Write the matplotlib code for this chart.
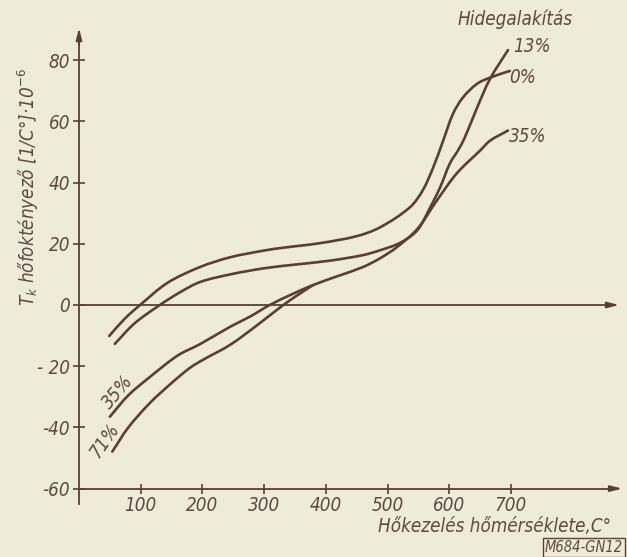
import matplotlib
matplotlib.use("Agg")
import numpy as np
import matplotlib.pyplot as plt
from matplotlib.path import Path
from matplotlib.patches import PathPatch

# ---------------- data ----------------
temps_0 = [49, 75, 99, 143, 196, 245, 300, 326, 390, 450, 488, 536, 557, 574, 590, 606, 622, 645, 666, 698]
tk_0 = [-10.1, -4.3, 0, 7.2, 12.4, 15.6, 17.8, 18.6, 20.2, 22.5, 25.4, 31.9, 37.5, 45, 53.7, 62.5, 67.8, 72.3, 74.3, 76.5]

temps_13 = [58, 90, 131, 164, 196, 245, 300, 350, 407, 460, 488, 520, 548, 569, 585, 601, 614, 625, 645, 666, 695]
tk_13 = [-12.7, -6.0, 0, 4.2, 7.5, 10.0, 12.0, 13.2, 14.5, 16.3, 17.9, 20.3, 24.4, 31.9, 38.4, 46.3, 50.5, 54.7, 64.5, 73.9, 83.3]

temps_35 = [50, 80, 115, 160, 196, 245, 277, 309, 345, 379, 420, 460, 488, 515, 548, 580, 612, 650, 666, 695]
tk_35 = [-36.5, -29.5, -23.5, -16.5, -12.8, -7.1, -3.8, 0, 3.5, 6.5, 9.5, 12.4, 15.3, 18.9, 24.8, 34.2, 43, 50.5, 53.7, 57]

temps_71 = [54, 80, 115, 150, 180, 201, 245, 290, 331, 360, 379]
tk_71 = [-47.9, -40, -32, -25.5, -20.5, -17.9, -13, -6.4, 0, 4, 6.5]

x_ticks = [100, 200, 300, 400, 500, 600, 700]
y_ticks = [80, 60, 40, 20, 0, -20, -40, -60]
y_tick_labels = ["80", "60", "40", "20", "0", "- 20", "-40", "-60"]

# ---------------- style ----------------
BG = "#efebdb"
INK = "#5a3f35"
TXT = "#5e4a42"

plt.rcParams["font.family"] = ["DejaVu Sans"]
plt.rcParams["font.stretch"] = "condensed"
plt.rcParams["mathtext.fontset"] = "dejavusans"

W, H = 627, 557
fig = plt.figure(figsize=(W / 100, H / 100), dpi=100, facecolor=BG)
ax = fig.add_axes([0, 0, 1, 1], facecolor=BG)

sx = 0.6172  # px per degree
sy = 3.06    # px per unit
x0px, y0px = 79, 305
ax.set_xlim(-x0px / sx, (W - x0px) / sx)
ax.set_ylim(-(H - y0px) / sy, y0px / sy)


def smooth_path(xs, ys):
    """Chord-length Catmull-Rom curve through the given data points (rendering only)."""
    P = np.column_stack([np.asarray(xs, float) * sx, np.asarray(ys, float) * sy])
    n = len(P)
    d = np.linalg.norm(np.diff(P, axis=0), axis=1)
    T = np.zeros_like(P)
    T[0] = (P[1] - P[0]) / d[0]
    T[-1] = (P[-1] - P[-2]) / d[-1]
    for i in range(1, n - 1):
        T[i] = (P[i + 1] - P[i - 1]) / (d[i - 1] + d[i])
    verts = [P[0]]
    codes = [Path.MOVETO]
    for i in range(n - 1):
        verts += [P[i] + T[i] * d[i] / 3, P[i + 1] - T[i + 1] * d[i] / 3, P[i + 1]]
        codes += [Path.CURVE4] * 3
    V = np.array(verts)
    V[:, 0] /= sx
    V[:, 1] /= sy
    return Path(V, codes)


lw = 1.9
for xs, ys in [(temps_0, tk_0), (temps_13, tk_13), (temps_35, tk_35), (temps_71, tk_71)]:
    ax.add_patch(PathPatch(smooth_path(xs, ys), fill=False, ec=INK, lw=lw, capstyle="round",
                           joinstyle="round"))

# axes spines
for s in ["top", "right"]:
    ax.spines[s].set_visible(False)
ax.spines["left"].set_position(("data", 0))
ax.spines["bottom"].set_position(("data", -60))
ax.spines["left"].set_bounds(-65, 88)
ax.spines["bottom"].set_bounds(0, 870)
for s in ["left", "bottom"]:
    ax.spines[s].set_color(INK)
    ax.spines[s].set_linewidth(1.3)

ax.set_xticks(x_ticks)
ax.set_xticklabels([str(v) for v in x_ticks])
ax.set_yticks(y_ticks)
ax.set_yticklabels(y_tick_labels)
for lab in ax.get_xticklabels() + ax.get_yticklabels():
    lab.set_fontsize(13.5)
    lab.set_fontstyle("italic")
    lab.set_fontstretch("condensed")
    lab.set_color(TXT)
ax.tick_params(axis="y", direction="inout", length=9, width=1.2, color=INK, pad=2)
ax.tick_params(axis="x", direction="inout", length=7, width=1.2, color=INK, pad=2)

# zero line
ax.plot([0, 868], [0, 0], color=INK, lw=1.3)
# arrows
ap = dict(arrowstyle="-|>,head_length=0.7,head_width=0.18", color=INK, lw=1.3, shrinkA=0, shrinkB=0)
ax.annotate("", xy=(0, 90.5), xytext=(0, 85), arrowprops=ap)
ax.annotate("", xy=(880, -60), xytext=(865, -60), arrowprops=ap)
ax.annotate("", xy=(875, 0), xytext=(862, 0), arrowprops=ap)

# labels
tx = dict(color=TXT, style="italic", stretch="condensed")
ax.text(706, 93.5, "Hidegalakítás", fontsize=13.5, ha="center", va="center", **tx)
ax.text(703, 84.6, "13%", fontsize=13.5, ha="left", va="center", **tx)
ax.text(697, 74.2, "0%", fontsize=13.5, ha="left", va="center", **tx)
ax.text(697, 55.2, "35%", fontsize=13.5, ha="left", va="center", **tx)
ax.text(63, -28.4, "35%", fontsize=13.5, ha="center", va="center", rotation=50, **tx)
ax.text(42, -44.4, "71%", fontsize=13.5, ha="center", va="center", rotation=55, **tx)
ax.text(674, -72.5, "Hőkezelés hőmérséklete,C°", fontsize=13.5, ha="center", va="center", **tx)
ax.text(-82.6, 38.6, r"$T_k$ hőfoktényező [1/C°]·10$^{-6}$", fontsize=13.5, ha="center", va="center",
        rotation=90, **tx)
ax.text(818, -79.2, "M684-GN12", fontsize=10.5, ha="center", va="center",
        bbox=dict(boxstyle="square,pad=0.15", fc="none", ec=INK, lw=1.0), **tx)

fig.savefig("out.png", dpi=100, facecolor=BG)
